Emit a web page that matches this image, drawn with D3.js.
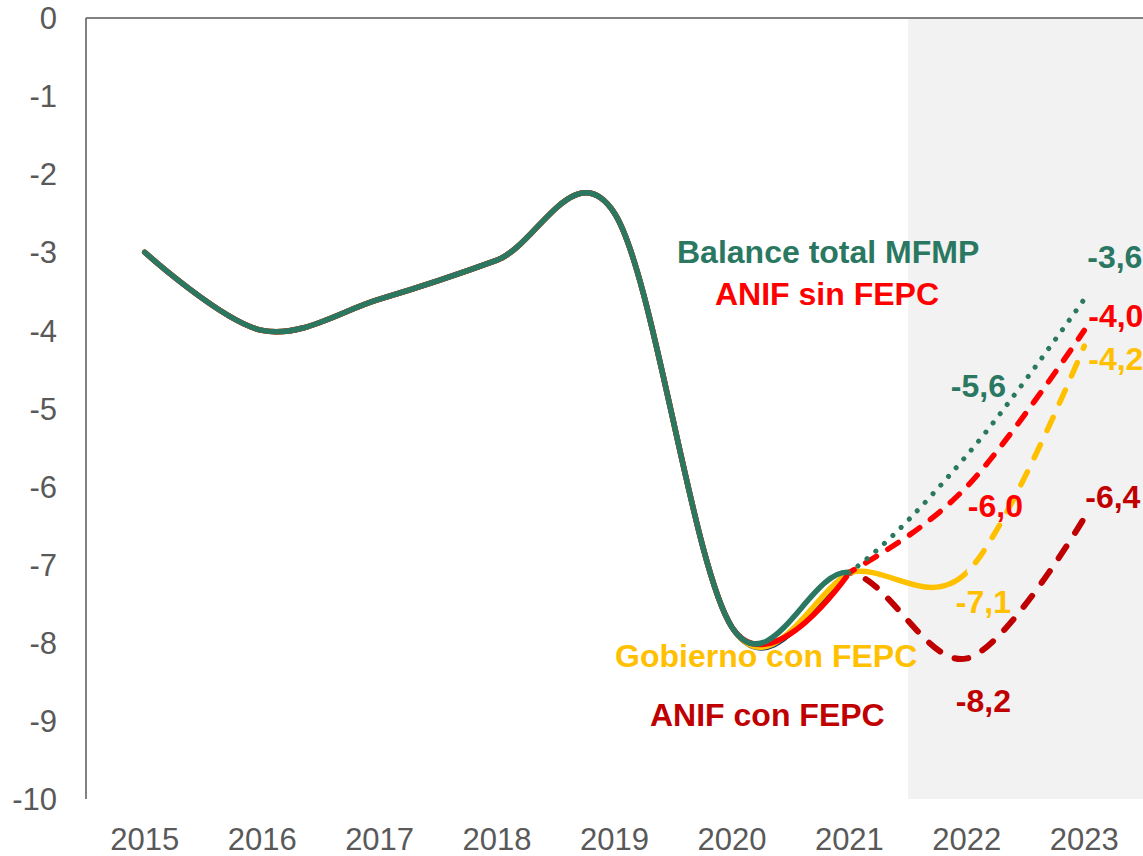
<!DOCTYPE html>
<html lang="es">
<head>
<meta charset="UTF-8">
<title>Balance fiscal</title>
<style>
  body { margin: 0; background: #fff; }
  svg { display: block; font-family: Arial, "Liberation Sans", sans-serif; }
</style>
</head>
<body>
<svg width="1143" height="856"></svg>
<script src="https://cdn.jsdelivr.net/npm/d3@7/dist/d3.min.js"></script>
<script>

// Data

const years = ["2015", "2016", "2017", "2018", "2019", "2020", "2021", "2022", "2023"];
const observed = [-3.0, -4.0, -3.6, -3.1, -2.5, -7.8, -7.1];
const mfmp = [...observed, -5.6, -3.6];            // Balance total MFMP
const anifSin = [...observed, -6.0, -4.0];         // ANIF sin FEPC
const gobiernoCon = [...observed, -7.1, -4.2];     // Gobierno con FEPC
const anifCon = [...observed, -8.2, -6.4];         // ANIF con FEPC
const yTicks = [0, -1, -2, -3, -4, -5, -6, -7, -8, -9, -10];

// Layout

const W = 1143;
const H = 856;
const plotLeft = 86, plotRight = 1143, plotTop = 18, plotBottom = 799;

const svg = d3.select("svg");

const x = d3.scaleBand().domain(years).range([plotLeft, plotRight]).padding(0);
const cx = d => x(d) + x.bandwidth() / 2;
const y = d3.scaleLinear().domain([-10, 0]).range([plotBottom, plotTop]);

// Forecast shading (2022 onwards)

svg.append("rect")
  .attr("x", x("2022"))
  .attr("y", plotTop)
  .attr("width", plotRight - x("2022"))
  .attr("height", plotBottom - plotTop)
  .attr("fill", "#F2F2F2");

// Axes

const axisColor = "#595959";

svg.append("line")
  .attr("x1", plotLeft).attr("x2", plotLeft)
  .attr("y1", y(0)).attr("y2", y(-10))
  .attr("stroke", axisColor).attr("stroke-width", 1.5);

svg.append("line")
  .attr("x1", plotLeft).attr("x2", plotRight)
  .attr("y1", y(0)).attr("y2", y(0))
  .attr("stroke", axisColor).attr("stroke-width", 1.5);

svg.append("g")
  .selectAll("text")
  .data(yTicks)
  .join("text")
    .attr("x", 57)
    .attr("y", d => y(d))
    .attr("dy", "0.36em")
    .attr("text-anchor", "end")
    .attr("font-size", 31)
    .attr("fill", axisColor)
    .text(d => d === 0 ? "0" : "-" + Math.abs(d));

svg.append("g")
  .selectAll("text")
  .data(years)
  .join("text")
    .attr("x", d => cx(d))
    .attr("y", 850)
    .attr("text-anchor", "middle")
    .attr("font-size", 31)
    .attr("fill", axisColor)
    .text(d => d);

// Clips: observed / forecast split

const defs = svg.append("defs");
const clip = (id, x0, x1) => defs.append("clipPath").attr("id", id)
  .append("rect").attr("x", x0).attr("y", 0).attr("width", x1 - x0).attr("height", H);

clip("hist", 0, cx("2021"));
clip("fc21", cx("2021"), W);
clip("mid", cx("2021"), cx("2022"));
clip("fc22", cx("2022"), W);

const line = d3.line()
  .x((d, i) => cx(years[i]))
  .y(d => y(d))
  .curve(d3.curveCardinal.tension(0));

const GREEN = "#2A7862", RED = "#FF0000", YELLOW = "#FFC000", DARKRED = "#C00000", NAVY = "#1F3864";

const draw = (values, color, clipId, w, dash) => {
  const p = svg.append("path")
    .attr("d", line(values))
    .attr("fill", "none")
    .attr("stroke", color)
    .attr("stroke-width", w)
    .attr("stroke-linecap", "round")
    .attr("stroke-linejoin", "round")
    .attr("clip-path", `url(#${clipId})`);
  if (dash) p.attr("stroke-dasharray", dash);
  return p;
};

// Forecasts

draw(anifCon, DARKRED, "fc21", 6, "14,16");
draw(gobiernoCon, YELLOW, "fc22", 5.5, "14.5,15.5");
draw(gobiernoCon, YELLOW, "mid", 5.5);
draw(anifSin, RED, "fc21", 5.5, "12.5,13.5");
draw(mfmp, GREEN, "fc21", 5, "0.1,11.5");

// Observed: the series overlap here; each smoothed curve bends slightly
// differently into 2021 depending on the series it belongs to.

draw(mfmp, NAVY, "hist", 5.5);
draw(anifSin, YELLOW, "hist", 5.5);
draw(observed, RED, "hist", 5.5);
draw(anifCon, GREEN, "hist", 5.5);

// Series names

const names = [
  { text: "Balance total MFMP", color: GREEN, x: 677, y: 263 },
  { text: "ANIF sin FEPC", color: RED, x: 715, y: 305 },
  { text: "Gobierno con FEPC", color: YELLOW, x: 615, y: 667 },
  { text: "ANIF con FEPC", color: DARKRED, x: 650, y: 726 }
];

svg.append("g")
  .selectAll("text")
  .data(names)
  .join("text")
    .attr("x", d => d.x)
    .attr("y", d => d.y)
    .attr("font-size", 32)
    .attr("font-weight", "bold")
    .attr("fill", d => d.color)
    .text(d => d.text);

// Value labels

const fmt = v => v.toFixed(1).replace(".", ",");
const valueLabels = [
  { year: "2022", v: mfmp[7], color: GREEN, dx: -16, dy: -58 },
  { year: "2023", v: mfmp[8], color: GREEN, dx: 3, dy: -31 },
  { year: "2022", v: anifSin[7], color: RED, dx: 1, dy: 30 },
  { year: "2023", v: anifSin[8], color: RED, dx: 4, dy: -3 },
  { year: "2022", v: gobiernoCon[7], color: YELLOW, dx: -11, dy: 40 },
  { year: "2023", v: gobiernoCon[8], color: YELLOW, dx: 4, dy: 24 },
  { year: "2022", v: anifCon[7], color: DARKRED, dx: -11, dy: 54 },
  { year: "2023", v: anifCon[8], color: DARKRED, dx: 1, dy: -10 }
];

svg.append("g")
  .selectAll("text")
  .data(valueLabels)
  .join("text")
    .attr("x", d => cx(d.year) + d.dx)
    .attr("y", d => y(d.v) + d.dy)
    .attr("font-size", 32)
    .attr("font-weight", "bold")
    .attr("fill", d => d.color)
    .text(d => fmt(d.v));

</script>
</body>
</html>
